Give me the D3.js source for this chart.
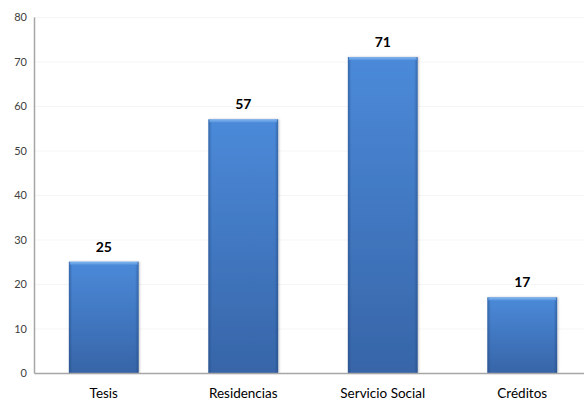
<!DOCTYPE html>
<html>
<head>
<meta charset="utf-8">
<script src="https://cdn.jsdelivr.net/npm/d3@7"></script>
<style>
  html, body { margin: 0; padding: 0; background: #fff; }
  svg { display: block; font-family: Lato, "Open Sans", sans-serif; }
</style>
</head>
<body>
<svg id="chart" width="584" height="401"></svg>
<script>
const categories = ["Tesis", "Residencias", "Servicio Social", "Créditos"];
const values = [25, 57, 71, 17];
const yTicks = [0, 10, 20, 30, 40, 50, 60, 70, 80];

const svg = d3.select("#chart");
const margin = { left: 34, top: 17, bottom: 28 };
const height = 401;
const plotRight = 592;

const x = d3.scaleBand().domain(categories)
  .range([margin.left, plotRight]).paddingInner(0.5).paddingOuter(0.25);
const y = d3.scaleLinear().domain([0, 80]).range([height - margin.bottom, margin.top]);

const defs = svg.append("defs");
const vg = defs.append("linearGradient").attr("id", "barFill")
  .attr("x1", 0).attr("y1", 0).attr("x2", 0).attr("y2", 1);
vg.append("stop").attr("offset", "0%").attr("stop-color", "#4b8ad9");
vg.append("stop").attr("offset", "100%").attr("stop-color", "#3765a8");

const hg = defs.append("linearGradient").attr("id", "barSides")
  .attr("x1", 0).attr("y1", 0).attr("x2", 1).attr("y2", 0);
hg.append("stop").attr("offset", "0%").attr("stop-color", "#1d3f73").attr("stop-opacity", 0.45);
hg.append("stop").attr("offset", "5%").attr("stop-color", "#1d3f73").attr("stop-opacity", 0);
hg.append("stop").attr("offset", "95%").attr("stop-color", "#1d3f73").attr("stop-opacity", 0);
hg.append("stop").attr("offset", "100%").attr("stop-color", "#1d3f73").attr("stop-opacity", 0.45);

const bevel = defs.append("linearGradient").attr("id", "bevel")
  .attr("x1", 0).attr("y1", 0).attr("x2", 0).attr("y2", 1);
bevel.append("stop").attr("offset", "0%").attr("stop-color", "#8cbcf2");
bevel.append("stop").attr("offset", "100%").attr("stop-color", "#5a97e0");

const shadow = defs.append("filter").attr("id", "shadow")
  .attr("x", "-10%").attr("y", "-10%").attr("width", "120%").attr("height", "120%");
shadow.append("feDropShadow").attr("dx", 1).attr("dy", 0).attr("stdDeviation", 1.2)
  .attr("flood-color", "#000").attr("flood-opacity", 0.25);

// faint gridlines
svg.append("g").selectAll("line").data(yTicks.slice(1)).join("line")
  .attr("x1", margin.left).attr("x2", plotRight)
  .attr("y1", d => y(d) + 0.5).attr("y2", d => y(d) + 0.5)
  .attr("stroke", "#f5f5f5").attr("stroke-width", 1);

// y axis
const yAxis = svg.append("g").attr("transform", `translate(${margin.left},0)`)
  .call(d3.axisLeft(y).tickValues(yTicks).tickSize(0).tickPadding(7));
yAxis.select(".domain").attr("stroke", "#a6a6a6").attr("stroke-width", 1.5);
yAxis.selectAll("text").attr("fill", "#404040").style("font-size", "11px")
  .style("font-family", "Lato, 'Open Sans', sans-serif");

// bars
const bars = svg.append("g").selectAll("g").data(categories).join("g");
bars.append("rect")
  .attr("x", d => x(d)).attr("width", x.bandwidth())
  .attr("y", (d, i) => y(values[i])).attr("height", (d, i) => y(0) - y(values[i]))
  .attr("fill", "url(#barFill)").attr("filter", "url(#shadow)");
bars.append("rect")
  .attr("x", d => x(d)).attr("width", x.bandwidth())
  .attr("y", (d, i) => y(values[i])).attr("height", (d, i) => y(0) - y(values[i]))
  .attr("fill", "url(#barSides)");
// top bevel highlight
bars.append("rect")
  .attr("x", d => x(d) + 1).attr("width", x.bandwidth() - 2)
  .attr("y", (d, i) => y(values[i])).attr("height", 3)
  .attr("fill", "url(#bevel)").attr("opacity", 0.85);

// x axis
const xAxis = svg.append("g").attr("transform", `translate(0,${y(0)})`)
  .call(d3.axisBottom(x).tickSize(0).tickPadding(15));
xAxis.select(".domain").attr("stroke", "#a6a6a6").attr("stroke-width", 1.5);
xAxis.selectAll("text").attr("fill", "#000").style("font-size", "13.5px")
  .style("font-family", "Lato, 'Open Sans', sans-serif");

// value labels
svg.append("g").selectAll("text").data(categories).join("text")
  .attr("x", d => x(d) + x.bandwidth() / 2)
  .attr("y", (d, i) => y(values[i]) - 10)
  .attr("text-anchor", "middle")
  .style("font-size", "14px").style("font-weight", "bold").attr("fill", "#000")
  .text((d, i) => values[i]);
</script>
</body>
</html>
